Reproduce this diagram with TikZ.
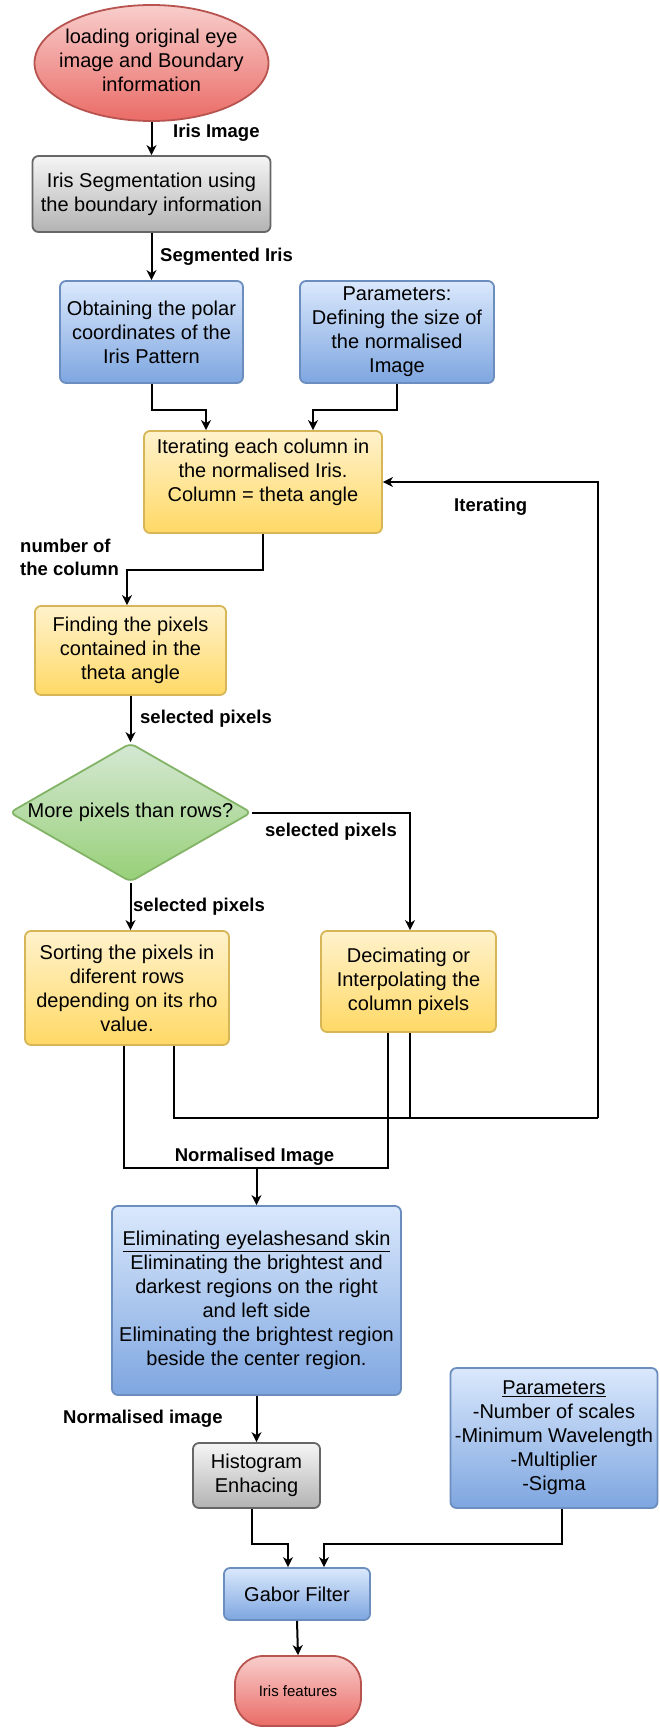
\documentclass[tikz,border=0pt]{standalone}
\usepackage{fontspec}
\setmainfont{Liberation Sans}
\usetikzlibrary{shapes.geometric,arrows.meta,calc}
\definecolor{redT}{HTML}{F8CECC}\definecolor{redB}{HTML}{EA6B66}\definecolor{redS}{HTML}{B85450}
\definecolor{grayT}{HTML}{F5F5F5}\definecolor{grayB}{HTML}{B3B3B3}\definecolor{grayS}{HTML}{666666}
\definecolor{blueT}{HTML}{DAE8FC}\definecolor{blueB}{HTML}{7EA6E0}\definecolor{blueS}{HTML}{6C8EBF}
\definecolor{yelT}{HTML}{FFF2CC}\definecolor{yelB}{HTML}{FFD966}\definecolor{yelS}{HTML}{D6B656}
\definecolor{grnT}{HTML}{D5E8D4}\definecolor{grnB}{HTML}{97D077}\definecolor{grnS}{HTML}{82B366}
\newcommand\mkz[1]{\makebox[0pt]{\begin{tabular}{@{}c@{}}#1\end{tabular}}}
\tikzset{
  box/.style={draw, line width=1.8pt, rounded corners=6pt, align=center, inner sep=2pt,
    font=\fontsize{20}{24}\selectfont},
  bluebox/.style={box, draw=blueS, top color=blueT, bottom color=blueB},
  graybox/.style={box, draw=grayS, top color=grayT, bottom color=grayB},
  yelbox/.style={box, draw=yelS, top color=yelT, bottom color=yelB},
  redell/.style={box, ellipse, inner sep=0pt, draw=redS, top color=redT, bottom color=redB},
  greendia/.style={box, diamond, inner sep=0pt, draw=grnS, top color=grnT, bottom color=grnB},
  lab/.style={font=\bfseries\fontsize{18.5}{23}\selectfont, inner sep=0pt},
  conn/.style={line width=2pt, draw=black},
  arr/.style={conn, -{Stealth[length=10pt,width=10pt,inset=3pt]}},
}
\begin{document}
\begin{tikzpicture}[x=1pt,y=-1pt]
\useasboundingbox (0,0) rectangle (660,1729);
% nodes
\node[redell, minimum width=234pt, minimum height=116pt] (start) at (151.5,63)
  {\mkz{loading original eye\\image and Boundary\\information}};
\node[graybox, minimum width=238pt, minimum height=76pt] (seg) at (151.5,194)
  {Iris Segmentation using\\the boundary information};
\node[bluebox, minimum width=183pt, minimum height=102pt] (polar) at (151.5,332)
  {Obtaining the polar\\coordinates of the\\Iris Pattern};
\node[bluebox, minimum width=194pt, minimum height=102pt] (par1) at (397,332)
  {Parameters:\\Defining the size of\\the normalised\\Image};
\node[yelbox, minimum width=238pt, minimum height=102pt] (iter) at (263,482)
  {Iterating each column in\\the normalised Iris.\\Column = theta angle\\\mbox{}};
\node[yelbox, minimum width=191pt, minimum height=89pt] (find) at (130.5,650.5)
  {Finding the pixels\\contained in the\\theta angle};
\node[greendia, minimum width=242pt, minimum height=139pt] (dia) at (130.5,812.5)
  {\mkz{More pixels than rows?}};
\node[yelbox, minimum width=204pt, minimum height=114pt] (sort) at (127,988)
  {Sorting the pixels in\\diferent rows\\depending on its rho\\value.};
\node[yelbox, minimum width=175pt, minimum height=101pt] (dec) at (408.5,981.5)
  {Decimating or\\Interpolating the\\column pixels};
\node[bluebox, minimum width=289pt, minimum height=189pt] (elim) at (256.5,1300.5)
  {\underline{Eliminating eyelashesand skin}\\Eliminating the brightest and\\darkest regions on the right\\and left side\\Eliminating the brightest region\\beside the center region.};
\node[graybox, minimum width=127pt, minimum height=65pt] (hist) at (256.5,1475.5)
  {Histogram\\Enhacing};
\node[bluebox, minimum width=207pt, minimum height=140pt] (par2) at (554,1438)
  {\underline{Parameters}\\-Number of scales\\-Minimum Wavelength\\-Multiplier\\-Sigma};
\node[bluebox, minimum width=146pt, minimum height=52pt] (gabor) at (297,1594)
  {Gabor Filter};
\node[box, rounded corners=28pt, draw=redS, top color=redT, bottom color=redB,
  minimum width=126pt, minimum height=70pt, font=\fontsize{15}{18}\selectfont] (end) at (298,1691)
  {Iris features};
% connector points
\coordinate (nj) at (256.5,1168);
\coordinate (lp) at (598,1118);
% connectors
\draw[arr] (start.south) -- (seg.north);
\draw[arr] (seg.south) -- (polar.north);
\draw[arr] (polar.south) -- ++(0,26) -| ([xshift=-57pt]iter.north);
\draw[arr] (par1.south) -- ++(0,26) -| ([xshift=50pt]iter.north);
\draw[arr] (iter.south) -- ++(0,36) -| ([xshift=-3.5pt]find.north);
\draw[arr] (find.south) -- (dia.north);
\draw[arr] (dia.east) -| ([xshift=1.5pt]dec.north);
\draw[arr] (dia.south) -- (dia.south |- sort.north);
\draw[conn] ([xshift=-3pt]sort.south) |- (nj);
\draw[conn] ([xshift=-20.5pt]dec.south) |- (nj);
\draw[conn] ([xshift=47pt]sort.south) |- (lp);
\draw[conn] ([xshift=1.5pt]dec.south) -- ([xshift=1.5pt]dec.south |- lp);
\draw[arr] (lp) |- (iter.east);
\draw[arr] (nj) -- (elim.north);
\draw[arr] (elim.south) -- (hist.north);
\draw[arr] ([xshift=-4.5pt]hist.south) -- ++(0,35) -| ([xshift=-9pt]gabor.north);
\draw[arr] ([xshift=8pt]par2.south) -- ++(0,35) -| ([xshift=27pt]gabor.north);
\draw[arr] (gabor.south) -- (end.north);
% labels
\node[lab, anchor=west] (l1) at (173,133) {Iris Image};
\node[lab, anchor=west] (l2) at (160,257) {Segmented Iris};
\node[lab, anchor=west] (l3) at (454,507) {Iterating};
\node[lab, anchor=west, align=left] (l4) at (20,557) {number of\\the column};
\node[lab, anchor=west] (l5) at (140,719) {selected pixels};
\node[lab, anchor=west] (l6) at (265,832) {selected pixels};
\node[lab, anchor=west] (l7) at (133,907) {selected pixels};
\node[lab] (l8) at (254.5,1157) {Normalised Image};
\node[lab, anchor=west] (l9) at (63,1419) {Normalised image};
\end{tikzpicture}
\end{document}
